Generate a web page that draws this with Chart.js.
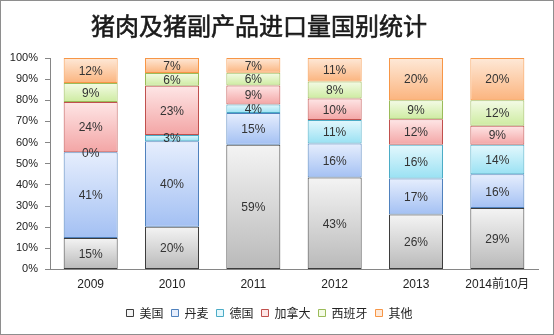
<!DOCTYPE html>
<html>
<head>
<meta charset="utf-8">
<script src="https://cdn.jsdelivr.net/npm/chart.js@4.4.1/dist/chart.umd.min.js"></script>
<style>
  html, body { margin: 0; padding: 0; background: #fff; }
  .frame { width: 554px; height: 335px; box-sizing: border-box; border: 1px solid #8e8e8e; background: #fff; }
  canvas { display: block; }
</style>
</head>
<body>
<div class="frame"><canvas id="imports" width="552" height="333"></canvas></div>
<script>
const years = ['2009', '2010', '2011', '2012', '2013', '2014前10月']
const countries = ['美国', '丹麦', '德国', '加拿大', '西班牙', '其他']
const chartTitle = '猪肉及猪副产品进口量国别统计'

// import share by country, % of the year's total
const usa = [15, 20, 59, 43, 26, 29]
const denmark = [41, 40, 15, 16, 17, 16]
const germany = [0, 3, 4, 11, 16, 14]
const canada = [24, 23, 9, 10, 12, 9]
const spain = [9, 6, 6, 8, 9, 12]
const others = [12, 7, 7, 11, 20, 20]

const series = [usa, denmark, germany, canada, spain, others]

// gradient stops (top, bottom) and outline for each country
const fillTop = ['#f4f4f4', '#e6eefd', '#e4f8fd', '#fee6e6', '#f4fbe6', '#fee9d8']
const fillBottom = ['#b9b9b9', '#a3c0f3', '#99e1f3', '#f3a5a5', '#cdeba0', '#fbb47e']
const outline = ['#3c3c3c', '#4f81bd', '#4bacc6', '#c0504d', '#9bbb59', '#f79646']

// stacked to 100%: each year is scaled by its own total
const totals = years.map((y, i) => series.reduce((s, arr) => s + arr[i], 0))
const shares = series.map(arr => arr.map((v, i) => v / totals[i] * 100))

const segmentFill = (ctx, d) => {
    const chart = ctx.chart
    const y = chart.scales.y
    if (ctx.type !== 'data' || !chart.chartArea || !y) return fillBottom[d]
    const i = ctx.dataIndex
    let start = 0
    for (let k = 0; k < d; k++) start += shares[k][i]
    const end = start + shares[d][i]
    const y0 = y.getPixelForValue(end)
    const y1 = y.getPixelForValue(start)
    if (!isFinite(y0) || !isFinite(y1) || y1 - y0 < 1) return fillBottom[d]
    const g = chart.ctx.createLinearGradient(0, y0, 0, y1)
    g.addColorStop(0, fillTop[d])
    g.addColorStop(1, fillBottom[d])
    return g
}

// percentage in the middle of every segment
const valueLabels = {
    id: 'valueLabels',
    afterDatasetsDraw(chart){
        const ctx = chart.ctx
        ctx.save()
        ctx.font = '12px "Liberation Sans"'
        ctx.fillStyle = '#333'
        ctx.textAlign = 'center'
        ctx.textBaseline = 'middle'
        series.forEach((arr, d) => {
            chart.getDatasetMeta(d).data.forEach((bar, i) => {
                ctx.fillText(arr[i] + '%', bar.x, (bar.y + bar.base) / 2 + 1)
            })
        })
        ctx.restore()
    }
}

// title sits a bit left of the canvas centre, over the plot
const titleText = {
    id: 'titleText',
    afterDraw(chart){
        const ctx = chart.ctx
        ctx.save()
        ctx.font = '24px "Noto Sans CJK SC"'
        ctx.fillStyle = '#1a1a1a'
        ctx.strokeStyle = '#1a1a1a'
        ctx.lineWidth = 0.6
        ctx.textAlign = 'center'
        ctx.textBaseline = 'middle'
        ctx.fillText(chartTitle, 258, 25)
        ctx.strokeText(chartTitle, 258, 25)
        ctx.restore()
    }
}

const axisGrey = '#868686'

new Chart(document.getElementById('imports'), {
    type: 'bar',
    data: {
        labels: years,
        datasets: countries.map((name, d) => ({
            label: name,
            data: shares[d],
            backgroundColor: ctx => segmentFill(ctx, d),
            borderColor: outline[d],
            borderWidth: 1,
            borderSkipped: false,
            categoryPercentage: 1,
            barPercentage: 0.664
        }))
    },
    options: {
        responsive: false,
        animation: false,
        layout: { padding: { left: 0, right: 15, top: 57, bottom: 5 } },
        scales: {
            x: {
                stacked: true,
                grid: { display: false, drawTicks: false },
                border: { display: true, color: axisGrey },
                ticks: { color: '#222', padding: 11, font: { family: '"Liberation Sans", "Noto Sans CJK SC"', size: 12, lineHeight: 0.63 } }
            },
            y: {
                stacked: true,
                min: 0,
                max: 100,
                afterFit: scale => { scale.width = 49 },
                grid: { drawOnChartArea: false, drawTicks: true, tickLength: 5, color: axisGrey },
                border: { display: true, color: axisGrey },
                ticks: {
                    stepSize: 10,
                    padding: 7,
                    color: '#222',
                    font: { family: '"Liberation Sans"', size: 11 },
                    callback: v => v + '%'
                }
            }
        },
        plugins: {
            title: { display: false },
            legend: {
                position: 'bottom',
                labels: {
                    boxWidth: 7,
                    boxHeight: 7,
                    padding: 8,
                    color: '#222',
                    font: { family: '"Noto Sans CJK SC"', size: 12 },
                    generateLabels: chart => chart.data.datasets.map((ds, i) => ({
                        text: ds.label,
                        fillStyle: fillTop[i],
                        strokeStyle: outline[i],
                        lineWidth: 1,
                        fontColor: '#222',
                        hidden: false,
                        datasetIndex: i
                    }))
                }
            },
            tooltip: { enabled: false }
        }
    },
    plugins: [valueLabels, titleText]
})
</script>
</body>
</html>
